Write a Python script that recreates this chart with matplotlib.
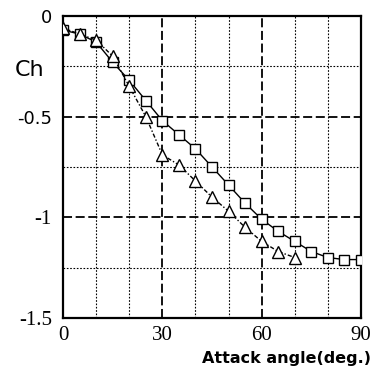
import matplotlib
matplotlib.use('Agg')
import matplotlib.pyplot as plt

# Data
angle_sq = [0, 5, 10, 15, 20, 25, 30, 35, 40, 45, 50, 55, 60, 65, 70, 75, 80, 85, 90]
ch_sq = [-0.07, -0.09, -0.13, -0.23, -0.32, -0.42, -0.52, -0.59, -0.66, -0.75,
         -0.84, -0.93, -1.01, -1.07, -1.12, -1.17, -1.20, -1.21, -1.21]
angle_tri = [0, 5, 10, 15, 20, 25, 30, 35, 40, 45, 50, 55, 60, 65, 70]
ch_tri = [-0.06, -0.09, -0.12, -0.20, -0.35, -0.50, -0.69, -0.74, -0.82, -0.90,
          -0.97, -1.05, -1.12, -1.17, -1.20]

x_ticks = [0, 30, 60, 90]
y_ticks = [0, -0.5, -1, -1.5]
y_tick_labels = ['0', '-0.5', '-1', '-1.5']

fig = plt.figure(figsize=(3.71, 3.71), dpi=100)
ax = fig.add_axes([0.170, 0.143, 0.803, 0.814])

ax.set_xlim(0, 90)
ax.set_ylim(-1.5, 0)

# grid: dashed majors, dotted minors
for x in range(10, 90, 10):
    if x % 30 == 0:
        ax.axvline(x, color='black', lw=1.3, ls=(0, (5, 2)), zorder=1)
    else:
        ax.axvline(x, color='black', lw=0.8, ls=(0, (1.5, 1.5)), zorder=1)
for y in [-0.25, -0.5, -0.75, -1.0, -1.25]:
    if y in (-0.5, -1.0):
        ax.axhline(y, color='black', lw=1.3, ls=(0, (5, 2)), zorder=1)
    else:
        ax.axhline(y, color='black', lw=0.8, ls=(0, (1.5, 1.5)), zorder=1)

ax.plot(angle_sq, ch_sq, color='black', lw=1.0, marker='s', ms=7,
        mfc='white', mec='black', mew=1.0, zorder=3)
ax.plot(angle_tri, ch_tri, color='black', lw=1.0, ls=(0, (3, 1.5, 1, 1.5)),
        marker='^', ms=9, mfc='white', mec='black', mew=1.0, zorder=3)

for s in ax.spines.values():
    s.set_linewidth(1.6)

ax.set_xticks(x_ticks)
ax.set_xticklabels([str(v) for v in x_ticks], family='Liberation Serif', fontsize=15)
ax.set_yticks(y_ticks)
ax.set_yticklabels(y_tick_labels, fontsize=13)
for lab in ax.get_yticklabels()[2:]:
    lab.set_family('Liberation Serif')
    lab.set_fontsize(15)
ax.tick_params(length=0, pad=8)
ax.tick_params(axis='x', pad=6)

fig.text(0.04, 0.81, 'Ch', fontsize=16, ha='left', va='center')
fig.text(1.0, 0.035, 'Attack angle(deg.)', fontsize=11.5, ha='right', va='center',
         fontweight='bold')

fig.savefig('out.png', dpi=100)
